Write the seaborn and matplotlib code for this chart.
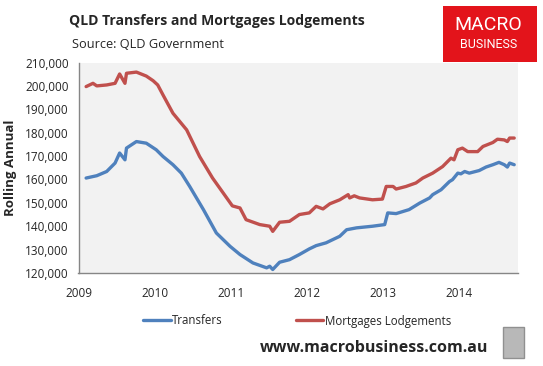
import pandas as pd
import matplotlib
matplotlib.use("Agg")
import matplotlib.pyplot as plt
from matplotlib.patches import Rectangle
from matplotlib.lines import Line2D
import seaborn as sns

# values (decimal year, rolling annual count)
transfer_years = [2009.10, 2009.24, 2009.37, 2009.48, 2009.54, 2009.61, 2009.63, 2009.76,
                  2009.89, 2010.02, 2010.11, 2010.24, 2010.35, 2010.46, 2010.64, 2010.81,
                  2010.99, 2011.12, 2011.29, 2011.47, 2011.51, 2011.55, 2011.64, 2011.77,
                  2011.90, 2012.03, 2012.12, 2012.25, 2012.34, 2012.43, 2012.52, 2012.65,
                  2012.86, 2013.02, 2013.06, 2013.17, 2013.34, 2013.48, 2013.61, 2013.65,
                  2013.76, 2013.87, 2013.91, 2013.98, 2014.02, 2014.07, 2014.13, 2014.26,
                  2014.35, 2014.44, 2014.52, 2014.59, 2014.63, 2014.66, 2014.72]
transfers = [160600, 161600, 163400, 167000, 171300, 168400, 173400, 176200,
             175500, 172700, 169800, 166300, 162700, 157000, 147100, 137100,
             131400, 127900, 124300, 122200, 122900, 121500, 124600, 125700,
             127900, 130300, 131700, 132900, 134300, 135700, 138500, 139300,
             140000, 140700, 145700, 145400, 147100, 149900, 152100, 153500,
             155600, 159100, 159900, 162700, 162400, 163400, 162700, 163800,
             165300, 166300, 167300, 166300, 165300, 167000, 166300]

mortgage_years = [2009.10, 2009.19, 2009.24, 2009.37, 2009.48, 2009.54, 2009.61, 2009.63,
                  2009.76, 2009.89, 2009.98, 2010.04, 2010.11, 2010.24, 2010.42, 2010.59,
                  2010.76, 2011.02, 2011.12, 2011.20, 2011.38, 2011.51, 2011.55, 2011.64,
                  2011.77, 2011.90, 2012.03, 2012.12, 2012.21, 2012.30, 2012.43, 2012.54,
                  2012.56, 2012.62, 2012.69, 2012.86, 2012.99, 2013.04, 2013.13, 2013.17,
                  2013.30, 2013.43, 2013.52, 2013.65, 2013.78, 2013.89, 2013.93, 2013.98,
                  2014.04, 2014.11, 2014.24, 2014.31, 2014.44, 2014.50, 2014.59, 2014.63,
                  2014.66, 2014.72]
mortgages = [199700, 201100, 200000, 200400, 201100, 205100, 201100, 205400,
             205900, 204200, 202200, 200400, 196100, 188300, 181200, 169800,
             160600, 148700, 147800, 142800, 140700, 140000, 137800, 141700,
             142100, 145000, 145700, 148500, 147400, 149600, 151300, 153500,
             152100, 153000, 152100, 151300, 151600, 157000, 157000, 155900,
             157000, 158500, 160600, 162700, 165500, 169100, 168400, 172700,
             173400, 171900, 171900, 174100, 175800, 177200, 176900, 176200,
             177700, 177700]

series_names = ["Transfers", "Mortgages Lodgements"]
series_colors = ["#4F81BD", "#C0504D"]
year_ticks = [2009, 2010, 2011, 2012, 2013, 2014]

df = pd.concat([
    pd.DataFrame({"year": transfer_years, "value": transfers, "series": series_names[0]}),
    pd.DataFrame({"year": mortgage_years, "value": mortgages, "series": series_names[1]}),
])

sns.set_style("white")
plt.rcParams["font.family"] = ["Open Sans", "DejaVu Sans"]

fig = plt.figure(figsize=(5.43, 3.66), dpi=100)
ax = fig.add_axes([78.5 / 543, 1 - 273 / 366, (518 - 78.5) / 543, (273 - 62.5) / 366])
ax.set_facecolor("#F2F2F2")

sns.lineplot(data=df, x="year", y="value", hue="series", palette=series_colors,
             hue_order=series_names, linewidth=2.4, legend=False, ax=ax, estimator=None, sort=False)

ax.set_xlim(2009, 2014.77)
ax.set_ylim(120000, 210000)
ax.set_xticks(year_ticks)
ax.set_xticklabels([str(y) for y in year_ticks], fontsize=8.5)
ax.set_yticks(range(120000, 210001, 10000))
ax.set_yticklabels([f"{v:,}" for v in range(120000, 210001, 10000)], fontsize=8.5)
ax.tick_params(axis="both", direction="out", length=3, color="#868686", pad=4)
ax.tick_params(axis="x", pad=7)
ax.set_xlabel("")
ax.set_ylabel("Rolling Annual", fontsize=9.5, fontweight="bold", labelpad=6)
for side in ["top", "right"]:
    ax.spines[side].set_visible(False)
for side in ["left", "bottom"]:
    ax.spines[side].set_color("#868686")
    ax.spines[side].set_linewidth(1)

fig.text(69 / 543, 1 - 21 / 366, "QLD Transfers and Mortgages Lodgements",
         fontsize=10.1, fontweight="bold", va="center", ha="left")
fig.text(72 / 543, 1 - 45 / 366, "Source: QLD Government", fontsize=9.2, va="center", ha="left")

# logo box
fig.patches.append(Rectangle((443 / 543, 1 - 62 / 366), 94 / 543, 56 / 366,
                             transform=fig.transFigure, facecolor="#E3141B", edgecolor="none"))
fig.text(488 / 543, 1 - 25 / 366, "MACRO", color="white", fontsize=14, ha="center", va="center",
         family=["Roboto", "DejaVu Sans"])
fig.text(489 / 543, 1 - 44 / 366, "BUSINESS", color="white", fontsize=9, ha="center", va="center",
         family=["Roboto", "DejaVu Sans"])

# legend below the plot
handles = [Line2D([], [], color=c, linewidth=2.4) for c in series_colors]
fig.legend(handles, series_names, loc="center", bbox_to_anchor=(297 / 543, 1 - 321 / 366),
           ncol=2, frameon=False, fontsize=8.3, handlelength=2.4, handletextpad=0.15,
           columnspacing=6.3)

fig.text(374.5 / 543, 1 - 348 / 366, "www.macrobusiness.com.au", fontsize=11.5, fontweight="bold",
         ha="center", va="center")
fig.patches.append(Rectangle((503 / 543, 1 - 358 / 366), 21 / 543, 31 / 366,
                             transform=fig.transFigure, facecolor="#B8B8B8", edgecolor="#909090"))

fig.savefig("out.png", dpi=100)
